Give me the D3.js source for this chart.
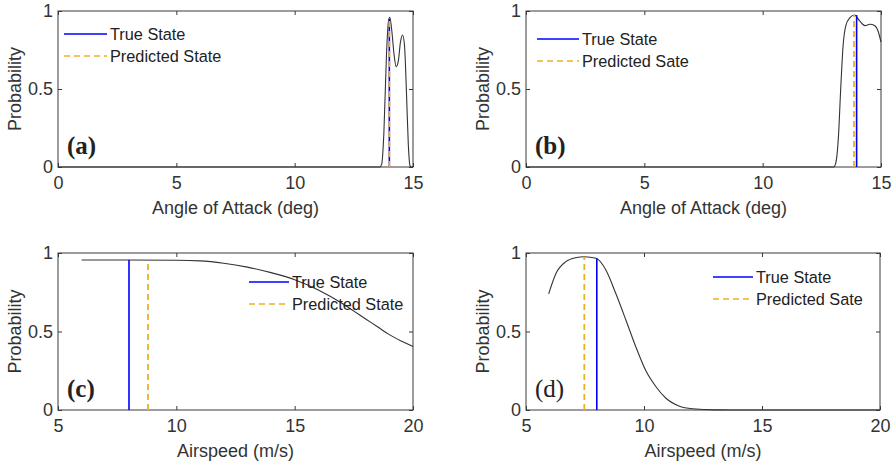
<!DOCTYPE html>
<html><head><meta charset="utf-8">
<script src="https://cdn.jsdelivr.net/npm/d3@7"></script>
<style>
html,body{margin:0;padding:0;background:#fff;}
svg{display:block;font-family:"Liberation Sans",Arial,sans-serif;}
</style></head>
<body>
<svg id="chart" width="896" height="466"></svg>
<script>
// ---------- data ----------
const aoaTicks = [0, 5, 10, 15];
const airTicks = [5, 10, 15, 20];
const probTicks = [0, 0.5, 1];
const probTickLabels = ["0", "0.5", "1"];

const xTitleAoA = "Angle of Attack (deg)";
const xTitleAir = "Airspeed (m/s)";
const yTitle = "Probability";

const legendLabelsA = ["True State", "Predicted State"];
const legendLabelsB = ["True State", "Predicted Sate"];
const legendLabelsC = ["True State", "Predicted State"];
const legendLabelsD = ["True State", "Predicted Sate"];

const panelLabels = ["(a)", "(b)", "(c)", "(d)"];

// probability curves [x, p]
const curveA = [[0,0],[13.6,0],[13.68,0.02],[13.77,0.22],[13.88,0.72],[13.96,0.93],[14.02,0.96],[14.1,0.88],[14.2,0.72],[14.29,0.643],[14.38,0.68],[14.47,0.8],[14.56,0.846],[14.64,0.78],[14.73,0.45],[14.8,0.15],[14.87,0.01],[14.92,0],[15,0]];
const curveB = [[0,0],[13.0,0],[13.08,0.02],[13.2,0.19],[13.3,0.51],[13.4,0.78],[13.52,0.91],[13.69,0.957],[13.88,0.974],[14.1,0.936],[14.32,0.906],[14.53,0.915],[14.74,0.906],[14.88,0.87],[15,0.8]];
const curveC = [[6,0.955],[8,0.955],[10,0.954],[11,0.95],[12,0.935],[13,0.91],[14,0.875],[15,0.83],[16,0.765],[17,0.68],[17.5,0.63],[18,0.58],[18.5,0.53],[19,0.48],[19.5,0.44],[20,0.405]];
const curveD = [[5.96,0.74],[6.27,0.87],[6.69,0.945],[7.1,0.97],[7.47,0.976],[7.97,0.966],[8.39,0.89],[8.81,0.74],[9.24,0.57],[9.66,0.40],[10.08,0.25],[10.5,0.15],[10.93,0.075],[11.48,0.026],[12.06,0.008],[13,0.001],[15,0],[20,0]];

// true / predicted state [x, top probability]
const trueStates = [[14.0,0.95],[13.97,0.974],[8.0,0.955],[8.0,0.966]];
const predStates = [[14.0,0.957],[13.86,0.974],[8.8,0.955],[7.47,0.976]];

// ---------- layout ----------
const panels = [
  {x0:58, x1:413, y0:11, y1:167, dom:[0,15], ticks:aoaTicks, xt:xTitleAoA, curve:curveA, leg:legendLabelsA, lx:6, ly:23, lw:43, lbold:true},
  {x0:526, x1:881, y0:11, y1:167, dom:[0,15], ticks:aoaTicks, xt:xTitleAoA, curve:curveB, leg:legendLabelsB, lx:11, ly:28, lw:42, lbold:true},
  {x0:58, x1:413, y0:253, y1:410, dom:[5,20], ticks:airTicks, xt:xTitleAir, curve:curveC, leg:legendLabelsC, lx:191, ly:29, lw:40, lbold:true},
  {x0:526, x1:880, y0:253, y1:410, dom:[5,20], ticks:airTicks, xt:xTitleAir, curve:curveD, leg:legendLabelsD, lx:187, ly:24, lw:40, lbold:false}
];

const svg = d3.select("#chart");
const axisColor = "#3a3a3a";
const fs = 18;

panels.forEach((p, i) => {
  const x = d3.scaleLinear().domain(p.dom).range([p.x0, p.x1]);
  const y = d3.scaleLinear().domain([0, 1]).range([p.y1, p.y0]);
  const g = svg.append("g");

  // frame
  g.append("rect").attr("x", p.x0).attr("y", p.y0)
    .attr("width", p.x1 - p.x0).attr("height", p.y1 - p.y0)
    .attr("fill", "none").attr("stroke", axisColor).attr("stroke-width", 1);

  const styleAxis = sel => {
    sel.select(".domain").remove();
    sel.selectAll("line").attr("stroke", axisColor);
    sel.selectAll("text").attr("fill", "#333").style("font-size", fs + "px").style("font-family", '"Liberation Sans", Arial, sans-serif');
  };

  g.append("g").attr("transform", `translate(0,${p.y1})`)
    .call(d3.axisBottom(x).tickValues(p.ticks).tickSize(-4).tickPadding(9).tickFormat(d3.format("d")))
    .call(styleAxis);
  g.append("g").attr("transform", `translate(0,${p.y0})`)
    .call(d3.axisTop(x).tickValues(p.ticks).tickSize(-4).tickFormat(""))
    .call(styleAxis);
  g.append("g").attr("transform", `translate(${p.x0},0)`)
    .call(d3.axisLeft(y).tickValues(probTicks).tickSize(-4).tickPadding(5).tickFormat((d, k) => probTickLabels[k]))
    .call(styleAxis);
  g.append("g").attr("transform", `translate(${p.x1},0)`)
    .call(d3.axisRight(y).tickValues(probTicks).tickSize(-4).tickFormat(""))
    .call(styleAxis);

  // titles
  g.append("text").attr("x", (p.x0 + p.x1) / 2).attr("y", p.y1 + 47)
    .attr("text-anchor", "middle").attr("fill", "#333").style("font-size", fs + "px").text(p.xt);
  g.append("text").attr("transform", `translate(${p.x0 - 37},${(p.y0 + p.y1) / 2}) rotate(-90)`)
    .attr("text-anchor", "middle").attr("fill", "#333").style("font-size", fs + "px").text(yTitle);

  // curve
  const line = d3.line().x(d => x(d[0])).y(d => y(d[1])).curve(d3.curveMonotoneX);
  g.append("path").datum(p.curve).attr("d", line)
    .attr("fill", "none").attr("stroke", "#333").attr("stroke-width", 1.1);

  // state lines
  const t = trueStates[i], pr = predStates[i];
  g.append("line").attr("x1", x(t[0])).attr("x2", x(t[0])).attr("y1", y(0)).attr("y2", y(t[1]))
    .attr("stroke", "#0000ff").attr("stroke-width", 1.6);
  g.append("line").attr("x1", x(pr[0])).attr("x2", x(pr[0])).attr("y1", y(0)).attr("y2", y(pr[1]))
    .attr("stroke", "#EDB120").attr("stroke-width", 1.8).attr("stroke-dasharray", "6,4");

  // legend
  const lx = p.x0 + p.lx, ly1 = p.y0 + p.ly, ly2 = ly1 + 22;
  g.append("line").attr("x1", lx).attr("x2", lx + p.lw).attr("y1", ly1).attr("y2", ly1)
    .attr("stroke", "#0000ff").attr("stroke-width", 1.6);
  g.append("line").attr("x1", lx).attr("x2", lx + p.lw).attr("y1", ly2).attr("y2", ly2)
    .attr("stroke", "#EDB120").attr("stroke-width", 1.6).attr("stroke-dasharray", "6,4");
  g.append("text").attr("x", lx + p.lw + 3).attr("y", ly1).attr("dy", "0.35em")
    .attr("fill", "#222").style("font-size", "16.3px").text(p.leg[0]);
  g.append("text").attr("x", lx + p.lw + 3).attr("y", ly2).attr("dy", "0.35em")
    .attr("fill", "#222").style("font-size", "16.3px").text(p.leg[1]);

  // panel label
  g.append("text").attr("x", p.x0 + 9).attr("y", p.y1 - 13)
    .attr("fill", "#222")
    .style("font-family", '"Liberation Serif", "Times New Roman", serif')
    .style("font-weight", p.lbold ? "bold" : "normal")
    .style("font-size", "25px").text(panelLabels[i]);
});
</script>
</body></html>
